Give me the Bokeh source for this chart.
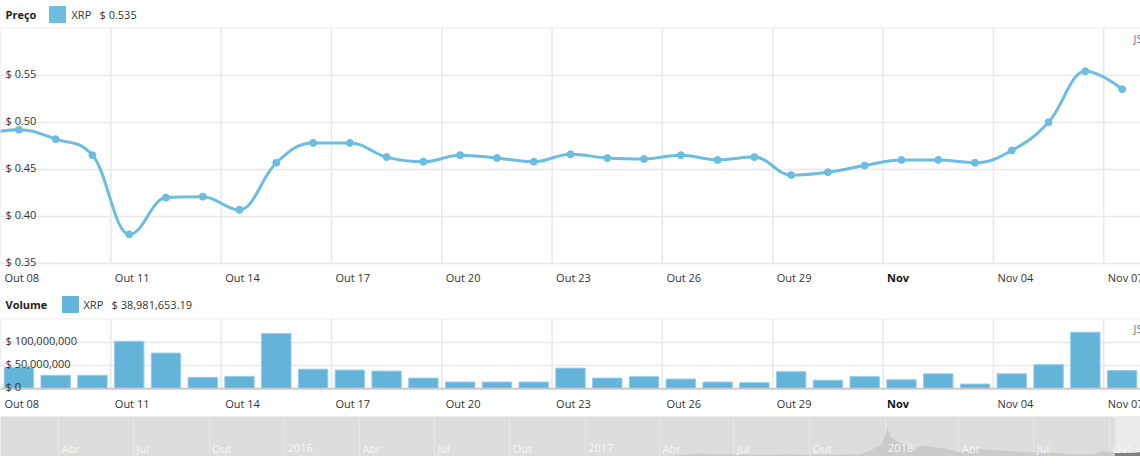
from datetime import datetime, timezone
from bokeh.plotting import figure
from bokeh.layouts import column
from bokeh.models import Range1d, FixedTicker, Grid
from bokeh.core.properties import value
from bokeh.embed import file_html
from bokeh.resources import INLINE

FONT = "Open Sans"
W = 1140

# ---------------- data ----------------
price_dates = ["2018-10-07", "2018-10-08", "2018-10-09", "2018-10-10", "2018-10-11", "2018-10-12",
               "2018-10-13", "2018-10-14", "2018-10-15", "2018-10-16", "2018-10-17", "2018-10-18",
               "2018-10-19", "2018-10-20", "2018-10-21", "2018-10-22", "2018-10-23", "2018-10-24",
               "2018-10-25", "2018-10-26", "2018-10-27", "2018-10-28", "2018-10-29", "2018-10-30",
               "2018-10-31", "2018-11-01", "2018-11-02", "2018-11-03", "2018-11-04", "2018-11-05",
               "2018-11-06", "2018-11-07"]
prices = [0.487, 0.492, 0.482, 0.465, 0.381, 0.420, 0.421, 0.407, 0.457, 0.478, 0.478, 0.463,
          0.458, 0.465, 0.462, 0.458, 0.466, 0.462, 0.461, 0.465, 0.460, 0.463, 0.444, 0.447,
          0.454, 0.460, 0.460, 0.457, 0.470, 0.500, 0.554, 0.535]

volume_dates = price_dates[1:]
volumes = [45.7e6, 28.6e6, 28.6e6, 102.0e6, 76.6e6, 24.3e6, 26.4e6, 118.7e6, 42.0e6, 40.0e6,
           37.8e6, 22.7e6, 14.2e6, 14.2e6, 14.2e6, 44.2e6, 22.7e6, 25.8e6, 20.6e6, 14.2e6,
           12.9e6, 36.5e6, 18.0e6, 25.8e6, 19.3e6, 32.0e6, 9.9e6, 32.0e6, 51.5e6, 121.5e6,
           38981653.19]

tick_dates = ["2018-10-08", "2018-10-11", "2018-10-14", "2018-10-17", "2018-10-20", "2018-10-23",
              "2018-10-26", "2018-10-29", "2018-11-01", "2018-11-04", "2018-11-07"]
tick_labels = ["Out 08", "Out 11", "Out 14", "Out 17", "Out 20", "Out 23", "Out 26", "Out 29",
               "Nov", "Nov 04", "Nov 07"]
tick_bold = [False, False, False, False, False, False, False, False, True, False, False]

price_ticks = [0.35, 0.40, 0.45, 0.50, 0.55]
price_grid = [0.35, 0.40, 0.45, 0.50, 0.55, 0.60]
volume_ticks = [0, 50e6, 100e6]
volume_grid = [0, 50e6, 100e6, 150e6]

nav_dates = ["2015-01-20", "2015-06-01", "2016-01-01", "2016-06-01", "2017-01-01", "2017-03-20",
             "2017-04-10", "2017-05-01", "2017-05-17", "2017-06-01", "2017-07-01", "2017-08-01",
             "2017-09-01", "2017-10-01", "2017-11-01", "2017-12-01", "2017-12-12", "2017-12-21",
             "2017-12-28", "2018-01-04", "2018-01-08", "2018-01-13", "2018-01-18", "2018-01-28",
             "2018-02-06", "2018-02-14", "2018-03-01", "2018-03-14", "2018-04-01", "2018-04-24",
             "2018-05-05", "2018-06-01", "2018-06-30", "2018-08-01", "2018-08-14", "2018-09-12",
             "2018-09-21", "2018-10-01", "2018-10-07"]
nav_prices = [0.02, 0.01, 0.006, 0.007, 0.006, 0.008, 0.03, 0.18, 0.38, 0.26, 0.25, 0.18,
              0.23, 0.21, 0.22, 0.25, 0.60, 1.10, 1.40, 3.38, 2.30, 2.00, 1.70, 1.40,
              0.80, 1.35, 1.10, 1.00, 0.55, 0.90, 0.85, 0.62, 0.48, 0.42, 0.28, 0.26,
              0.60, 0.58, 0.48]
nav_tick_dates = ["2015-04-01", "2015-07-01", "2015-10-01", "2016-01-01", "2016-04-01", "2016-07-01",
                  "2016-10-01", "2017-01-01", "2017-04-01", "2017-07-01", "2017-10-01", "2018-01-01",
                  "2018-04-01", "2018-07-01", "2018-10-01"]
nav_tick_labels = ["Abr", "Jul", "Out", "2016", "Abr", "Jul", "Out", "2017", "Abr", "Jul", "Out",
                   "2018", "Abr", "Jul", "Out"]

# ---------------- styles ----------------
LINE_C = "#6cbde0"
BAR_C = "#64b4da"
BAR_EDGE = "#96cdeb"
GRID_C = "#e8e8e8"
TEXT_C = "#333333"


def ms(s, hour=0):
    d = datetime.fromisoformat(s).replace(tzinfo=timezone.utc)
    return d.timestamp() * 1000 + hour * 3600 * 1000


X0 = ms("2018-10-08")
X1 = ms("2018-11-08")
DAY = 24 * 3600 * 1000


def bare(height, x_range, y_range):
    f = figure(width=W, height=height, x_range=x_range, y_range=y_range,
               x_axis_type=None, y_axis_type=None, toolbar_location=None,
               output_backend="svg", min_border=0)
    f.outline_line_color = None
    return f


def txt(f, x, y, t, **kw):
    f.text(x=x, y=y, text=t, text_font=value(FONT), text_font_size=kw.pop("size", "11px"),
           text_color=kw.pop("color", TEXT_C), **kw)


def header(title, color, name, val, sq_x, name_x, val_x, h, yc):
    f = bare(h, Range1d(0, W), Range1d(0, h))
    f.rect(x=[sq_x + 8], y=[yc], width=16, height=16, fill_color=color, line_color=color)
    txt(f, [5], [yc], [title], text_font_style="bold", text_baseline="middle", color="#222222")
    txt(f, [name_x, val_x], [yc, yc], [name, val], text_baseline="middle")
    return f


def x_labels(f, ylab):
    for d, lbl, b in zip(tick_dates, tick_labels, tick_bold):
        txt(f, [ms(d)], [ylab], [lbl], x_offset=4, text_align="left", text_baseline="middle",
            color="#111111" if b else TEXT_C, text_font_style="bold" if b else "normal")


def spline(xs, ys, smoothing=1.5):
    n = len(xs)
    lcx, lcy, rcx, rcy = list(xs), list(ys), list(xs), list(ys)
    den = smoothing + 1
    for i in range(1, n - 1):
        px_, py = xs[i], ys[i]
        ax, ay = xs[i - 1], ys[i - 1]
        bx, by = xs[i + 1], ys[i + 1]
        lx, ly = (smoothing * px_ + ax) / den, (smoothing * py + ay) / den
        rx, ry = (smoothing * px_ + bx) / den, (smoothing * py + by) / den
        if rx != lx:
            corr = (ry - ly) * (rx - px_) / (rx - lx) + py - ry
            ly += corr
            ry += corr
        if ly > ay and ly > py:
            ly = max(ay, py); ry = 2 * py - ly
        elif ly < ay and ly < py:
            ly = min(ay, py); ry = 2 * py - ly
        if ry > by and ry > py:
            ry = max(by, py); ly = 2 * py - ry
        elif ry < by and ry < py:
            ry = min(by, py); ly = 2 * py - ry
        lcx[i], lcy[i], rcx[i], rcy[i] = lx, ly, rx, ry
    return dict(x0=xs[:-1], y0=ys[:-1], x1=xs[1:], y1=ys[1:],
                cx0=rcx[:-1], cy0=rcy[:-1], cx1=lcx[1:], cy1=lcy[1:])


px = [ms(d, 12) for d in price_dates]
vx = [ms(d, 12) for d in volume_dates]
tx = [ms(d) for d in tick_dates]

# ---------------- price panel ----------------
h1 = header("Preço", LINE_C, "XRP", f"$ {prices[-1]:.3f}", 49, 71, 99, 27, 13)

P_FRAME, P_BOTTOM = 236, 27
PLO, PHI = price_grid[0], price_grid[-1]
kp = (PHI - PLO) / P_FRAME
p = bare(P_FRAME + P_BOTTOM, Range1d(X0, X1), Range1d(PLO - P_BOTTOM * kp, PHI + 0.5 * kp))
p.add_layout(Grid(dimension=1, ticker=FixedTicker(ticks=price_grid), grid_line_color=GRID_C,
                  grid_line_width=1.5))
p.segment(x0=tx, y0=PLO, x1=tx, y1=PHI, line_color=GRID_C, line_width=1.5)
p.bezier(**spline(px, prices), line_color=LINE_C, line_width=3, line_cap="round")
p.scatter(px, prices, size=7, fill_color=LINE_C, line_color=LINE_C)
txt(p, [X0] * len(price_ticks), [v + 2 * kp for v in price_ticks],
    [f"$ {v:.2f}" for v in price_ticks], x_offset=5, text_baseline="alphabetic")
txt(p, [X1], [PHI - 11 * kp], ["JS"], x_offset=-7, text_baseline="middle", color="#777777")
x_labels(p, PLO - 14 * kp)

# ---------------- volume panel ----------------
h2 = header("Volume", BAR_C, "XRP", f"$ {volumes[-1]:,.2f}", 62, 83, 111, 28, 14)

V_FRAME, V_BOTTOM = 70, 28
VHI = volume_grid[-1]
kv = VHI / V_FRAME
q = bare(V_FRAME + V_BOTTOM, Range1d(X0, X1), Range1d(-V_BOTTOM * kv, VHI + 0.5 * kv))
q.add_layout(Grid(dimension=1, ticker=FixedTicker(ticks=volume_grid), grid_line_color=GRID_C,
                  grid_line_width=1.5))
q.segment(x0=tx, y0=0, x1=tx, y1=VHI, line_color=GRID_C, line_width=1.5)
q.vbar(x=vx, top=volumes, bottom=0, width=0.8 * DAY, fill_color=BAR_C, line_color=BAR_EDGE,
       line_width=1)
q.segment(x0=[X0], y0=[0], x1=[X1], y1=[0], line_color="#cccccc", line_width=2)
txt(q, [X0] * len(volume_ticks), [v + 2 * kv for v in volume_ticks],
    [f"$ {v:,.0f}" for v in volume_ticks], x_offset=5, text_baseline="alphabetic")
txt(q, [X1], [VHI - 10 * kv], ["JS"], x_offset=-7, text_baseline="middle", color="#777777")
x_labels(q, -15 * kv)

# ---------------- navigator ----------------
NAV_MAX = 4.8
N_H = 40
n = bare(N_H, Range1d(ms("2015-01-20"), X1), Range1d(0, NAV_MAX))
n.background_fill_color = "#dddddd"
n.border_fill_color = "#dddddd"
n.add_layout(Grid(dimension=0, ticker=FixedTicker(ticks=[ms(d) for d in nav_tick_dates]),
                  grid_line_color="#e6e6e6", grid_line_width=1))
n.varea(x=[ms(d) for d in nav_dates], y1=0, y2=nav_prices, fill_color="#cbcbcb")
n.quad(left=[X0], right=[X1], bottom=[0], top=[NAV_MAX], fill_color="#ebebeb", line_color=None)
n.varea(x=px, y1=0, y2=prices, fill_color="#7f7f7f")
txt(n, [ms(d) for d in nav_tick_dates], [NAV_MAX * 8.5 / N_H] * len(nav_tick_dates),
    nav_tick_labels, x_offset=3, text_baseline="middle", color="#f7f7f7")

layout = column(h1, p, h2, q, n, spacing=0)
open("out.html", "w").write(file_html(layout, INLINE))
